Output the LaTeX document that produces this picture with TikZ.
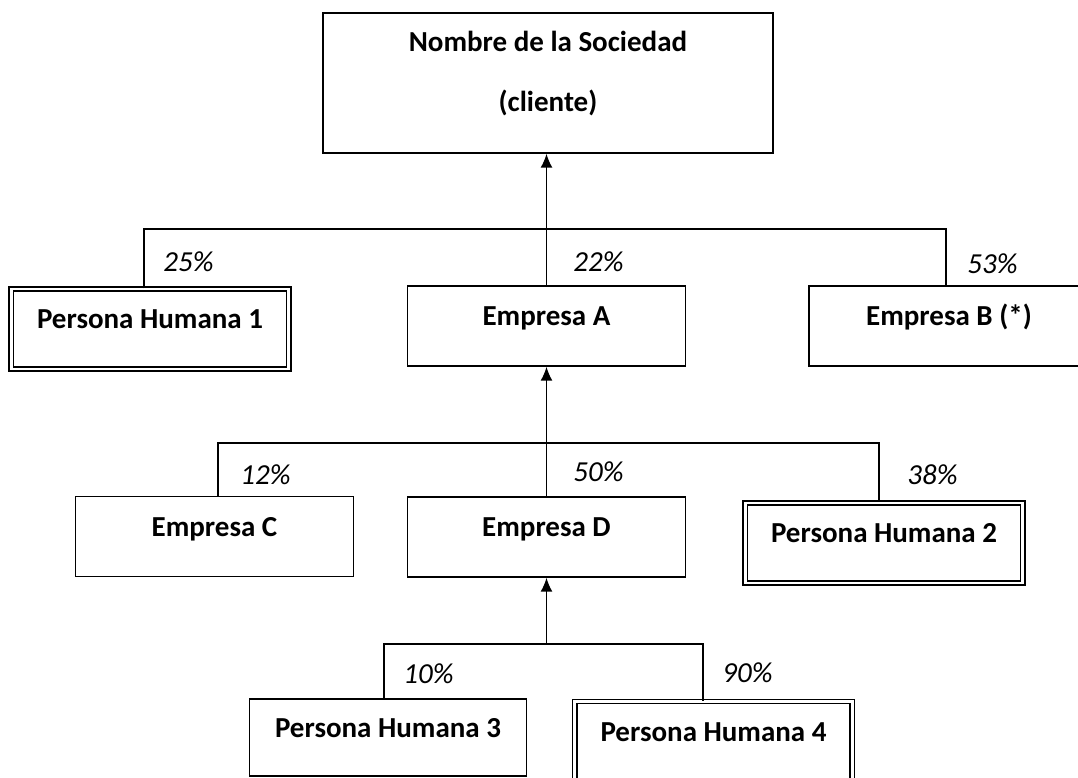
\documentclass[tikz,border=0pt]{standalone}
\usepackage{fontspec}
\setmainfont{Carlito}
\usetikzlibrary{arrows.meta}

\tikzset{
  boxbase/.style={draw, line width=0.8pt, inner sep=0pt, font=\bfseries},
  orgbox/.style={boxbase, minimum width=5.55cm, minimum height=1.6cm, text height=0.4cm, text depth=0.4cm},
  personbox/.style={orgbox, double, double distance=1.6pt},
  pct/.style={font=\itshape, anchor=west, inner sep=0pt},
  link/.style={line width=0.9pt},
  owns/.style={link, -{Latex[length=0.28cm, width=0.24cm]}}
}

\begin{document}
\fontsize{16.5}{20}\selectfont
\begin{tikzpicture}
\useasboundingbox (0,0) rectangle (21.56,15.56);

% Client company
\node[boxbase, align=center, minimum width=9cm, minimum height=2.8cm, text depth=0.45cm] (soc) at (10.96,13.9) {Nombre de la Sociedad\\[0.5cm](cliente)};

% First level
\node[personbox] (ph1) at (3.0,8.98) {Persona Humana 1};
\node[orgbox] (empA) at (10.93,9.04) {Empresa A};
\node[orgbox, minimum width=5.6cm] (empB) at (18.98,9.04) {Empresa B (*)};

% Second level
\node[orgbox] (empC) at (4.29,4.83) {Empresa C};
\node[orgbox] (empD) at (10.93,4.82) {Empresa D};
\node[personbox] (ph2) at (17.68,4.7) {Persona Humana 2};

% Third level
\node[orgbox, minimum height=1.54cm] (ph3) at (7.76,0.81) {Persona Humana 3};
\node[personbox] (ph4) at (14.27,0.73) {Persona Humana 4};

% Connectors, level 1
\coordinate (busAL) at (2.88,10.98);
\coordinate (busAR) at (18.92,10.98);
\draw[link] (ph1.north -| busAL) -- (busAL) -- (busAR) -- (empB.north -| busAR);
\draw[owns] (empA.north) -- (empA.north |- soc.south);

% Connectors, level 2
\coordinate (busBL) at (4.36,6.7);
\coordinate (busBR) at (17.58,6.7);
\draw[link] (empC.north -| busBL) -- (busBL) -- (busBR) -- (ph2.north -| busBR);
\draw[owns] (empD.north) -- (empD.north |- empA.south);

% Connectors, level 3
\coordinate (busCL) at (7.68,2.68);
\coordinate (busCR) at (14.06,2.68);
\draw[link] (ph3.north -| busCL) -- (busCL) -- (busCR) -- (ph4.north -| busCR);
\draw[owns] (empD.south |- busCL) -- (empD.south);

% Shares
\node[pct] (p25) at (3.26,10.32) {25\%};
\node[pct] (p22) at (11.46,10.32) {22\%};
\node[pct] (p53) at (19.34,10.28) {53\%};
\node[pct] (p12) at (4.8,6.06) {12\%};
\node[pct] (p50) at (11.46,6.12) {50\%};
\node[pct] (p38) at (18.14,6.06) {38\%};
\node[pct] (p10) at (8.06,2.08) {10\%};
\node[pct] (p90) at (14.44,2.1) {90\%};
\end{tikzpicture}
\end{document}
